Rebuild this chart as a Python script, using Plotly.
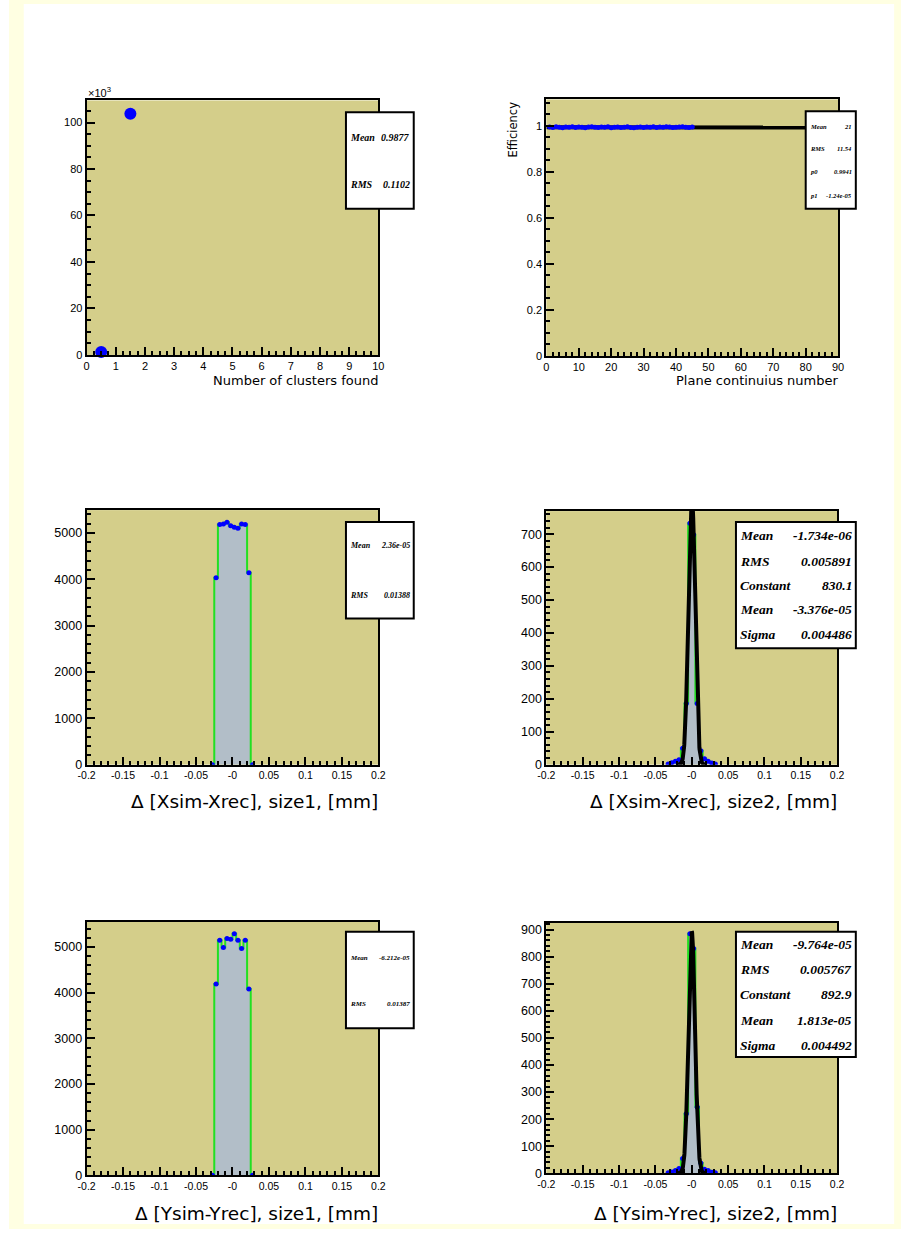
import numpy as np
import plotly.graph_objects as go

W, H = 908, 1236

# ---------------- data ----------------
# number of reconstructed clusters per event
clusters_x = [0.5, 1.5]
clusters_counts = [1290, 103800]
clusters_stats = [("Mean", "0.9877"), ("RMS", "0.1102")]

# efficiency per plane, with linear fit p0 + p1*x
plane_number = list(range(1, 46))
plane_eff = [0.995, 0.993, 0.996, 0.994, 0.992, 0.995, 0.994, 0.996, 0.993, 0.995,
             0.994, 0.992, 0.995, 0.996, 0.994, 0.993, 0.995, 0.994, 0.996, 0.992,
             0.994, 0.995, 0.993, 0.994, 0.996, 0.993, 0.992, 0.994, 0.995, 0.993,
             0.995, 0.994, 0.996, 0.993, 0.995, 0.994, 0.996, 0.995, 0.993, 0.994,
             0.995, 0.996, 0.994, 0.993, 0.995]
plane_eff_err = [0.006] * 45
eff_p0 = 0.9941
eff_p1 = -1.24e-05
eff_stats = [("Mean", "21"), ("RMS", "11.54"), ("p0", "0.9941"), ("p1", "-1.24e-05")]

# residuals, cluster size 1 (bin width 0.005 mm)
size1_centers = [-0.0275, -0.0225, -0.0175, -0.0125, -0.0075, -0.0025,
                 0.0025, 0.0075, 0.0125, 0.0175, 0.0225, 0.0275]
dx_size1 = [0, 4030, 5180, 5190, 5230, 5150, 5120, 5100, 5190, 5180, 4140, 0]
dy_size1 = [0, 4190, 5150, 4990, 5190, 5170, 5290, 5150, 4970, 5150, 4080, 0]
dx_size1_stats = [("Mean", "2.36e-05"), ("RMS", "0.01388")]
dy_size1_stats = [("Mean", "-6.212e-05"), ("RMS", "0.01387")]

# residuals, cluster size 2 with gaussian fit
size2_centers = [-0.0325, -0.0275, -0.0225, -0.0175, -0.0125, -0.0075, -0.0025,
                 0.0025, 0.0075, 0.0125, 0.0175, 0.0225, 0.0275, 0.0325]
dx_size2 = [2, 6, 10, 15, 50, 186, 733, 698, 186, 42, 18, 10, 5, 2]
dy_size2 = [2, 5, 10, 18, 55, 220, 884, 830, 245, 38, 15, 10, 4, 2]
dx_fit = dict(const=830.1, mean=-3.376e-05, sigma=0.004486)
dy_fit = dict(const=892.9, mean=1.813e-05, sigma=0.004492)
dx_size2_stats = [("Mean", "-1.734e-06"), ("RMS", "0.005891"), ("Constant", "830.1"),
                  ("Mean", "-3.376e-05"), ("Sigma", "0.004486")]
dy_size2_stats = [("Mean", "-9.764e-05"), ("RMS", "0.005767"), ("Constant", "892.9"),
                  ("Mean", "1.813e-05"), ("Sigma", "0.004492")]

res_ticks = [-0.2, -0.15, -0.1, -0.05, 0.0, 0.05, 0.1, 0.15, 0.2]
res_ticktext = ["-0.2", "-0.15", "-0.1", "-0.05", "-0", "0.05", "0.1", "0.15", "0.2"]

# ---------------- style ----------------
KHAKI = "#D4CE8A"
PAGE = "#FFFFE2"
HIST_FILL = "#B2BEC8"
HIST_LINE = "#22E022"
BLUE = "#0000FF"
SANS = "Liberation Sans"
WIDE = "DejaVu Sans"
SERIF = "Liberation Serif"


def fx(x):
    return x / W


def fy(y):
    return 1 - y / H


fig = go.Figure()
layout = dict(width=W, height=H, margin=dict(l=0, r=0, t=0, b=0),
              paper_bgcolor="white", plot_bgcolor=KHAKI, showlegend=False)
shapes = []
annotations = []

# page border strips
for x0, y0, x1, y1 in [(0, 0, 15, H), (901, 0, W, H), (0, 0, W, 4), (0, 1231, W, H)]:
    shapes.append(dict(type="rect", xref="paper", yref="paper", x0=fx(x0), x1=fx(x1),
                       y0=fy(y1), y1=fy(y0), fillcolor=PAGE, line=dict(width=0), layer="below"))


def minor_vals(lo, hi, step):
    n = int(round((hi - lo) / step))
    return [round(lo + i * step, 6) for i in range(n + 1)]


def add_axes(n, box, xrange, yrange, xt, xtt, yt, ytt, xminor, yminor,
             xfont=11, yfont=11):
    (x0, x1), (y0, y1) = box
    sfx = "" if n == 1 else str(n)
    common = dict(showline=True, mirror=True, linecolor="black", linewidth=2,
                  ticks="inside", ticklen=8, tickwidth=2, tickcolor="black",
                  showgrid=False, zeroline=False, tickmode="array")
    layout["xaxis" + sfx] = dict(common, domain=[fx(x0), fx(x1)], range=xrange,
                                 anchor="y" + sfx, tickvals=xt, ticktext=xtt,
                                 tickfont=dict(family=SANS, size=xfont, color="black"),
                                 minor=dict(ticks="inside", ticklen=4, tickwidth=1.5,
                                            tickcolor="black", tickmode="array",
                                            tickvals=minor_vals(xrange[0], xrange[1], xminor),
                                            showgrid=False))
    layout["yaxis" + sfx] = dict(common, domain=[fy(y1), fy(y0)], range=yrange,
                                 anchor="x" + sfx, tickvals=yt, ticktext=ytt,
                                 tickfont=dict(family=SANS, size=yfont, color="black"),
                                 minor=dict(ticks="inside", ticklen=4, tickwidth=1.5,
                                            tickcolor="black", tickmode="array",
                                            tickvals=minor_vals(0, yrange[1], yminor),
                                            showgrid=False))
    return "x" + sfx, "y" + sfx


def stats_box(frame, ys, rows, size, pad=2):
    x0, y0, x1, y1 = frame
    shapes.append(dict(type="rect", xref="paper", yref="paper", x0=fx(x0), x1=fx(x1),
                       y0=fy(y1), y1=fy(y0), fillcolor="white",
                       line=dict(color="black", width=2), layer="above"))
    for (label, value), yy in zip(rows, ys):
        f = dict(family=SERIF, size=size, color="black", style="italic", weight="bold")
        annotations.append(dict(xref="paper", yref="paper", x=fx(x0 + pad), y=fy(yy),
                                xanchor="left", yanchor="middle", text=label,
                                showarrow=False, font=f))
        annotations.append(dict(xref="paper", yref="paper", x=fx(x1 - pad), y=fy(yy),
                                xanchor="right", yanchor="middle", text=value,
                                showarrow=False, font=f))


def title(text, x, y, size, anchor="right", angle=0, yanchor="middle"):
    annotations.append(dict(xref="paper", yref="paper", x=fx(x), y=fy(y), text=text,
                            xanchor=anchor, yanchor=yanchor, showarrow=False,
                            textangle=angle,
                            font=dict(family=WIDE, size=size, color="black")))


def hist_traces(xa, ya, centers, counts):
    fig.add_trace(go.Scatter(x=centers, y=counts, mode="lines", line_shape="hvh",
                             line=dict(color=HIST_LINE, width=2), fill="tozeroy",
                             fillcolor=HIST_FILL, xaxis=xa, yaxis=ya, hoverinfo="skip"))
    fig.add_trace(go.Scatter(x=centers, y=counts, mode="markers",
                             marker=dict(color=BLUE, size=5), xaxis=xa, yaxis=ya,
                             cliponaxis=True))


# ---- panel 1: number of clusters
xa, ya = add_axes(1, ((79, 376), (101, 357)), [0, 10], [0, 109500],
                  list(range(0, 11)), [str(v) for v in range(0, 11)],
                  [0, 20000, 40000, 60000, 80000, 100000],
                  ["0", "20", "40", "60", "80", "100"], 0.25, 5000, 11, 11)
fig.add_trace(go.Scatter(x=clusters_x, y=clusters_counts, mode="markers",
                         marker=dict(color=BLUE, size=12), xaxis=xa, yaxis=ya,
                         cliponaxis=False))
annotations.append(dict(xref="paper", yref="paper", x=fx(78), y=fy(93), xanchor="left",
                        yanchor="middle", text="×10<sup>3</sup>", showarrow=False,
                        font=dict(family=SANS, size=11, color="black")))
title("Number of clusters found", 378, 383, 13)
stats_box((343, 113, 412, 210), [138, 186], clusters_stats, 10)

# ---- panel 2: efficiency vs plane
xa, ya = add_axes(2, ((547, 844), (100, 358)), [0, 90], [0, 1.115],
                  list(range(0, 91, 10)), [str(v) for v in range(0, 91, 10)],
                  [0, 0.2, 0.4, 0.6, 0.8, 1.0], ["0", "0.2", "0.4", "0.6", "0.8", "1"],
                  2, 0.05, 11, 11)
fit_x = np.array([0.0, 90.0])
fig.add_trace(go.Scatter(x=fit_x, y=eff_p0 + eff_p1 * fit_x, mode="lines",
                         line=dict(color="black", width=4), xaxis=xa, yaxis=ya))
fig.add_trace(go.Scatter(x=plane_number, y=plane_eff, mode="markers",
                         marker=dict(color=BLUE, size=5),
                         error_y=dict(type="data", array=plane_eff_err, color=BLUE,
                                      thickness=1.5, width=0),
                         error_x=dict(type="constant", value=0.5, color=BLUE,
                                      thickness=1.5, width=0),
                         xaxis=xa, yaxis=ya))
title("Plane continuius number", 846, 383, 13)
title("Efficiency", 513, 100, 11.5, anchor="center", angle=-90, yanchor="top")
stats_box((811, 112, 862, 210), [127, 149, 172, 197], eff_stats, 6.5, pad=2)

# ---- panels 3-6: residual histograms
panels = [
    (3, ((79, 376), (513, 769)), 5490, 1000, 200, size1_centers, dx_size1, None,
     "Δ [Xsim-Xrec], size1, [mm]", 378, 806,
     (343, 525, 412, 622), [549, 599], dx_size1_stats, 8),
    (4, ((547, 843), (514, 769)), 770, 100, 20, size2_centers, dx_size2, dx_fit,
     "Δ [Xsim-Xrec], size2, [mm]", 845, 806,
     (740, 525, 862, 652), [539, 565, 589, 613, 638], dx_size2_stats, 13.5),
    (5, ((79, 376), (927, 1182)), 5555, 1000, 200, size1_centers, dy_size1, None,
     "Δ [Ysim-Yrec], size1, [mm]", 378, 1220,
     (343, 937, 412, 1034), [963, 1010], dy_size1_stats, 7),
    (6, ((547, 843), (928, 1180)), 925, 100, 20, size2_centers, dy_size2, dy_fit,
     "Δ [Ysim-Yrec], size2, [mm]", 845, 1220,
     (740, 937, 862, 1063), [950, 975, 1000, 1026, 1051], dy_size2_stats, 13.5),
]

for (n, box, ymax, ymaj, ymin, centers, counts, fit, xtitle, tx, ty,
     sframe, sys, srows, ssize) in panels:
    yt = list(range(0, int(ymax) + 1, ymaj))
    xa, ya = add_axes(n, box, [-0.2, 0.2], [0, ymax], res_ticks, res_ticktext,
                      yt, [str(v) for v in yt], 0.01, ymin, xfont=10.5, yfont=12.5)
    hist_traces(xa, ya, centers, counts)
    if fit is not None:
        gx = np.linspace(-0.02, 0.02, 161)
        gy = fit["const"] * np.exp(-0.5 * ((gx - fit["mean"]) / fit["sigma"]) ** 2)
        fig.add_trace(go.Scatter(x=gx, y=gy, mode="lines",
                                 line=dict(color="black", width=4), xaxis=xa, yaxis=ya))
    title(xtitle, tx, ty, 18.5)
    stats_box(sframe, sys, srows, ssize)

layout["shapes"] = shapes
layout["annotations"] = annotations
fig.update_layout(**layout)
fig.write_html("out.html", config={"responsive": False, "displayModeBar": False},
               post_script="document.body.style.margin='0';"
                           "document.body.style.overflow='hidden';")
